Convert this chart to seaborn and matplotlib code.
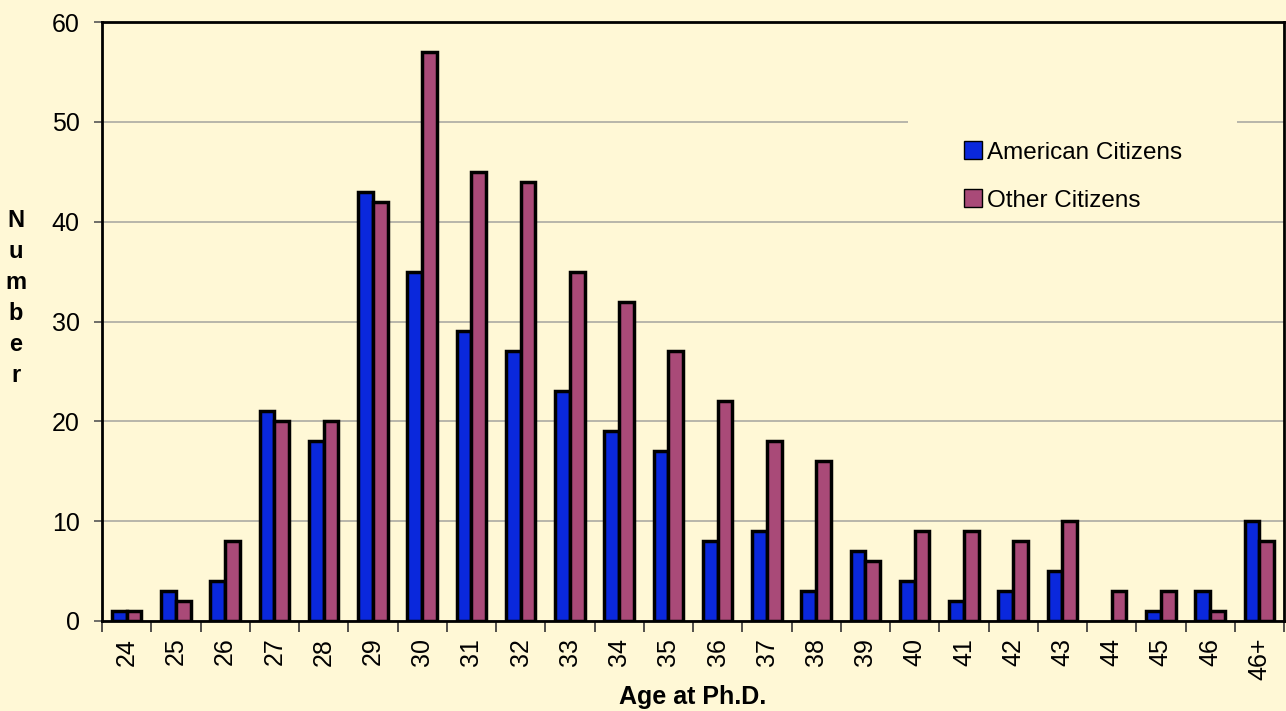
import pandas as pd
import matplotlib
matplotlib.use("Agg")
import matplotlib.pyplot as plt
from matplotlib.patches import Rectangle
import seaborn as sns

ages = ["24", "25", "26", "27", "28", "29", "30", "31", "32", "33", "34", "35",
        "36", "37", "38", "39", "40", "41", "42", "43", "44", "45", "46", "46+"]
american = [1, 3, 4, 21, 18, 43, 35, 29, 27, 23, 19, 17, 8, 9, 3, 7, 4, 2, 3, 5, 0, 1, 3, 10]
other = [1, 2, 8, 20, 20, 42, 57, 45, 44, 35, 32, 27, 22, 18, 16, 6, 9, 9, 8, 10, 3, 3, 1, 8]

BG = "#FFF8D6"
BLUE = "#0A28DC"
MAUVE = "#A94A78"

df = pd.DataFrame({
    "age": ages * 2,
    "count": american + other,
    "group": ["American Citizens"] * len(ages) + ["Other Citizens"] * len(ages),
})

sns.set_theme(style="white")
plt.rcParams["font.family"] = ["Liberation Sans", "DejaVu Sans"]
plt.rcParams["text.color"] = "black"
plt.rcParams["xtick.color"] = "black"
plt.rcParams["ytick.color"] = "black"
plt.rcParams["axes.labelcolor"] = "black"

fig = plt.figure(figsize=(12.86, 7.11), dpi=100, facecolor=BG)
ax = fig.add_axes([102 / 1286, 1 - 621 / 711, (1284 - 102) / 1286, (621 - 22) / 711])
ax.set_facecolor(BG)

sns.barplot(
    data=df, x="age", y="count", hue="group",
    palette=[BLUE, MAUVE], width=0.6, dodge=True,
    edgecolor="black", linewidth=2.5, saturation=1,
    ax=ax, zorder=3,
)
# empty bars are not drawn in the original
for cont in ax.containers:
    for p in cont:
        if p.get_height() == 0:
            p.set_visible(False)

ax.set_ylim(0, 60)
ax.set_xlim(-0.5, len(ages) - 0.5)
ax.set_yticks(range(0, 61, 10))
ax.yaxis.grid(True, color="#ABABA3", linewidth=1.2, zorder=0)
ax.set_axisbelow(True)

for s in ["left", "top", "right", "bottom"]:
    ax.spines[s].set_visible(True)
    ax.spines[s].set_color("black")
    ax.spines[s].set_linewidth(2)

# x ticks at category boundaries, labels centered
ax.set_xticks([i for i in range(len(ages))])
ax.set_xticklabels(ages, rotation=90, fontsize=18)
ax.tick_params(axis="x", length=0, pad=12)
ax.set_xticks([i - 0.5 for i in range(len(ages) + 1)], minor=True)
ax.tick_params(axis="x", which="minor", length=8, width=1.2, color="#333333", bottom=True)
ax.tick_params(axis="y", labelsize=18, length=6, width=1.2, color="#555555", left=True, pad=10)

ax.set_xlabel("Age at Ph.D.", fontsize=18, fontweight="bold")
ax.xaxis.set_label_coords(0.5, -0.107)
ax.set_ylabel("")
fig.text(16 / 1286, 1 - 298 / 711, "N\nu\nm\nb\ne\nr", fontsize=17, fontweight="bold",
         ha="center", va="center", linespacing=1.45)

# legend area hides the gridline behind it
ax.add_patch(Rectangle((0.682, 0.72), 0.278, 0.2, transform=ax.transAxes,
                       facecolor=BG, edgecolor="none", zorder=2))
leg = ax.legend(loc="center left", bbox_to_anchor=(0.719, 0.742), frameon=False,
                fontsize=17.5, handlelength=0.75, handleheight=0.75, handletextpad=0.2,
                labelspacing=1.05, borderpad=0)
for h in leg.legend_handles:
    h.set_linewidth(1)

fig.savefig("out.png", dpi=100, facecolor=BG)
